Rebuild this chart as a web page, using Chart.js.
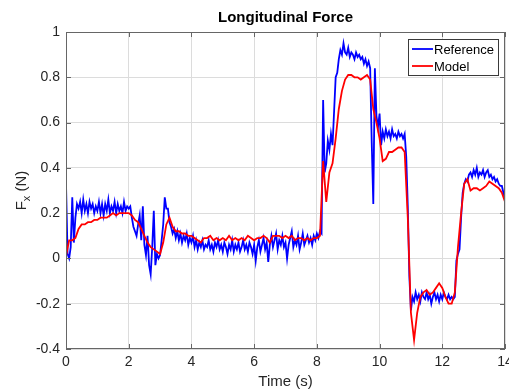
<!DOCTYPE html>
<html lang="en">
<head>
<meta charset="UTF-8">
<title>Longitudinal Force</title>
<script src="https://cdn.jsdelivr.net/npm/chart.js"></script>
<style>
    body { margin: 0; background: #ffffff; }
    #wrap { width: 509px; height: 391px; }
</style>
</head>
<body>
<div id="wrap"><canvas id="forceChart" width="509" height="391"></canvas></div>
<script>
// sample spacing of each signal (s)
const refStep = 0.05;
const modelStep = 0.1;

// Reference Fx (N), one row per second, sampled every 0.05 s
const referenceForce = [
    0.33, 0.02, 0.00, 0.05, 0.27, 0.07, 0.18, 0.24, 0.22, 0.25, 0.20, 0.26, 0.21, 0.24, 0.20, 0.25, 0.22, 0.24, 0.20, 0.23,
    0.21, 0.25, 0.20, 0.24, 0.19, 0.24, 0.21, 0.26, 0.20, 0.23, 0.21, 0.25, 0.20, 0.24, 0.21, 0.23, 0.20, 0.25, 0.21, 0.23,
    0.22, 0.23, 0.18, 0.14, 0.12, 0.10, 0.15, 0.19, 0.08, 0.23, 0.06, 0.015, 0.10, -0.03, -0.07, 0.05, 0.21, -0.03, 0.02, 0.00,
    0.015, 0.08, 0.15, 0.27, 0.22, 0.22, 0.16, 0.14, 0.11, 0.13, 0.09, 0.12, 0.08, 0.11, 0.07, 0.10, 0.08, 0.11, 0.06, 0.09,
    0.07, 0.10, 0.05, 0.08, 0.04, 0.07, 0.05, 0.08, 0.04, 0.06, 0.05, 0.08, 0.04, 0.06, 0.03, 0.07, 0.05, 0.08, 0.04, 0.06,
    0.03, 0.07, 0.05, 0.02, 0.06, 0.04, 0.08, 0.03, 0.06, 0.04, 0.07, 0.03, 0.05, 0.08, 0.04, 0.06, 0.03, 0.07, 0.05, 0.02,
    0.06, -0.01, 0.05, 0.08, 0.03, 0.06, 0.09, 0.04, 0.07, -0.015, 0.06, 0.10, 0.05, 0.08, 0.11, 0.04, 0.08, 0.06, 0.10, 0.05,
    0.07, 0.00, 0.06, 0.09, 0.12, 0.05, 0.08, 0.06, 0.10, 0.04, 0.07, 0.11, 0.06, 0.08, 0.10, 0.07, 0.09, 0.06, 0.10, 0.08,
    0.11, 0.09, 0.12, 0.11, 0.70, 0.38, 0.42, 0.52, 0.48, 0.55, 0.50, 0.65, 0.80, 0.82, 0.88, 0.92, 0.90, 0.95, 0.91, 0.90,
    0.93, 0.89, 0.91, 0.90, 0.88, 0.91, 0.89, 0.90, 0.88, 0.89, 0.86, 0.88, 0.85, 0.87, 0.84, 0.51, 0.24, 0.84, 0.63, 0.58,
    0.64, 0.50, 0.56, 0.53, 0.57, 0.54, 0.56, 0.53, 0.57, 0.54, 0.55, 0.53, 0.56, 0.54, 0.55, 0.53, 0.55, 0.45, 0.23, -0.08,
    -0.23, -0.17, -0.19, -0.15, -0.18, -0.16, -0.19, -0.15, -0.17, -0.18, -0.15, -0.18, -0.16, -0.20, -0.17, -0.15, -0.18, -0.16, -0.19, -0.16,
    -0.18, -0.15, -0.17, -0.18, -0.16, -0.18, -0.17, -0.18, -0.17, -0.01, 0.02, 0.04, 0.18, 0.29, 0.33, 0.35, 0.34, 0.37, 0.38, 0.36,
    0.39, 0.37, 0.40, 0.36, 0.38, 0.37, 0.39, 0.36, 0.38, 0.39, 0.36, 0.37, 0.35, 0.36, 0.34, 0.35, 0.33, 0.32, 0.32, 0.29,
    0.26
];

// Model Fx (N), one row per second, sampled every 0.1 s
const modelForce = [
    0.01, 0.08, 0.08, 0.09, 0.13, 0.15, 0.15, 0.16, 0.16, 0.17,
    0.17, 0.18, 0.18, 0.18, 0.19, 0.20, 0.19, 0.20, 0.20, 0.20,
    0.20, 0.19, 0.17, 0.16, 0.13, 0.10, 0.07, 0.05, 0.04, 0.03,
    0.02, 0.07, 0.15, 0.18, 0.14, 0.12, 0.12, 0.11, 0.11, 0.10,
    0.10, 0.09, 0.08, 0.07, 0.09, 0.09, 0.10, 0.08, 0.09, 0.08,
    0.09, 0.08, 0.10, 0.08, 0.09, 0.08, 0.09, 0.08, 0.10, 0.09,
    0.08, 0.09, 0.09, 0.10, 0.09, 0.07, 0.10, 0.10, 0.10, 0.09,
    0.10, 0.09, 0.10, 0.08, 0.09, 0.09, 0.08, 0.09, 0.08, 0.09,
    0.09, 0.10, 0.43, 0.25, 0.38, 0.42, 0.53, 0.66, 0.74, 0.79,
    0.81, 0.81, 0.80, 0.80, 0.79, 0.80, 0.81, 0.79, 0.66, 0.60,
    0.53, 0.43, 0.44, 0.47, 0.47, 0.48, 0.49, 0.49, 0.47, 0.18,
    -0.24, -0.36, -0.24, -0.17, -0.15, -0.14, -0.16, -0.15, -0.13, -0.11,
    -0.13, -0.17, -0.20, -0.20, -0.15, 0.05, 0.20, 0.33, 0.35, 0.30,
    0.31, 0.31, 0.30, 0.31, 0.32, 0.34, 0.33, 0.32, 0.31, 0.29,
    0.25
];

const seriesNames = ['Reference', 'Model'];
const seriesColors = ['#0000ff', '#ff0000'];
const xTicks = [0, 2, 4, 6, 8, 10, 12, 14];
const yTicks = [-0.4, -0.2, 0, 0.2, 0.4, 0.6, 0.8, 1];

const textColor = '#262626';
const fontFamily = '"Liberation Sans", Arial, sans-serif';

function toPoints(values, step) {
    return values.map((v, i) => ({ x: +(i * step).toFixed(2), y: v }));
}

// frame, inward ticks, labels and legend, MATLAB style
const matlabAxes = {
    id: 'matlabAxes',
    afterDraw(chart) {
        const { ctx, chartArea: a, scales } = chart;
        const x = scales.x, y = scales.y;
        ctx.save();

        ctx.strokeStyle = '#666666';
        ctx.lineWidth = 1;
        ctx.strokeRect(a.left + 0.5, a.top + 0.5, a.right - a.left - 1, a.bottom - a.top - 1);

        ctx.beginPath();
        xTicks.forEach(t => {
            const px = Math.round(x.getPixelForValue(t)) + 0.5;
            ctx.moveTo(px, a.bottom); ctx.lineTo(px, a.bottom - 5);
            ctx.moveTo(px, a.top); ctx.lineTo(px, a.top + 5);
        });
        yTicks.forEach(t => {
            const py = Math.round(y.getPixelForValue(t)) + 0.5;
            ctx.moveTo(a.left, py); ctx.lineTo(a.left + 5, py);
            ctx.moveTo(a.right, py); ctx.lineTo(a.right - 5, py);
        });
        ctx.stroke();

        // title
        ctx.fillStyle = '#000000';
        ctx.font = 'bold 15px ' + fontFamily;
        ctx.textAlign = 'center';
        ctx.textBaseline = 'middle';
        ctx.fillText('Longitudinal Force', (a.left + a.right) / 2, 18);

        // x label
        ctx.fillStyle = textColor;
        ctx.font = '15px ' + fontFamily;
        ctx.fillText('Time (s)', (a.left + a.right) / 2, 382);

        // y label with subscript
        ctx.save();
        ctx.translate(26, (a.top + a.bottom) / 2);
        ctx.rotate(-Math.PI / 2);
        ctx.textBaseline = 'alphabetic';
        ctx.textAlign = 'left';
        ctx.font = '15px ' + fontFamily;
        const wF = ctx.measureText('F').width;
        const wRest = ctx.measureText(' (N)').width;
        ctx.font = '11px ' + fontFamily;
        const wSub = ctx.measureText('x').width;
        let sx = -(wF + wSub + wRest) / 2;
        ctx.font = '15px ' + fontFamily;
        ctx.fillText('F', sx, 0);
        ctx.font = '11px ' + fontFamily;
        ctx.fillText('x', sx + wF, 4);
        ctx.font = '15px ' + fontFamily;
        ctx.fillText(' (N)', sx + wF + wSub, 0);
        ctx.restore();

        // legend box
        const lx = 408, ly = 39, lw = 90, lh = 36;
        ctx.fillStyle = '#ffffff';
        ctx.fillRect(lx, ly, lw, lh);
        ctx.strokeStyle = '#3a3a3a';
        ctx.lineWidth = 1;
        ctx.strokeRect(lx + 0.5, ly + 0.5, lw, lh);
        ctx.font = '13px ' + fontFamily;
        ctx.textAlign = 'left';
        ctx.textBaseline = 'middle';
        seriesNames.forEach((name, i) => {
            const ry = ly + 10 + i * 17;
            ctx.strokeStyle = seriesColors[i];
            ctx.lineWidth = 1.8;
            ctx.beginPath();
            ctx.moveTo(412, ry); ctx.lineTo(433, ry);
            ctx.stroke();
            ctx.fillStyle = '#000000';
            ctx.fillText(name, 434, ry + 1);
        });

        ctx.restore();
    }
};

const ctx = document.getElementById('forceChart').getContext('2d');
new Chart(ctx, {
    type: 'line',
    data: {
        datasets: [
            {
                label: seriesNames[0],
                data: toPoints(referenceForce, refStep),
                borderColor: seriesColors[0],
                borderWidth: 1.8,
                pointRadius: 0,
                tension: 0,
                order: 1
            },
            {
                label: seriesNames[1],
                data: toPoints(modelForce, modelStep),
                borderColor: seriesColors[1],
                borderWidth: 1.8,
                pointRadius: 0,
                tension: 0,
                order: 0
            }
        ]
    },
    options: {
        responsive: false,
        animation: false,
        events: [],
        layout: { padding: { top: 32, right: 4, left: 0, bottom: 0 } },
        plugins: {
            legend: { display: false },
            title: { display: false },
            tooltip: { enabled: false }
        },
        scales: {
            x: {
                type: 'linear',
                min: 0,
                max: 14,
                afterBuildTicks: s => { s.ticks = xTicks.map(v => ({ value: v })); },
                afterFit: s => { s.height = 42; s.paddingLeft = 0; s.paddingRight = 0; },
                grid: { color: '#dcdcdc', drawTicks: false },
                border: { display: false },
                ticks: {
                    padding: 5,
                    color: textColor,
                    font: { family: fontFamily, size: 14 },
                    maxRotation: 0,
                    callback: v => String(v)
                }
            },
            y: {
                type: 'linear',
                min: -0.4,
                max: 1,
                afterBuildTicks: s => { s.ticks = yTicks.map(v => ({ value: v })); },
                afterFit: s => { s.width = 66; s.paddingTop = 0; s.paddingBottom = 0; },
                grid: { color: '#dcdcdc', drawTicks: false },
                border: { display: false },
                ticks: {
                    padding: 6,
                    color: textColor,
                    font: { family: fontFamily, size: 14 },
                    callback: v => String(Number(v.toFixed(1)))
                }
            }
        }
    },
    plugins: [matlabAxes]
});
</script>
</body>
</html>
